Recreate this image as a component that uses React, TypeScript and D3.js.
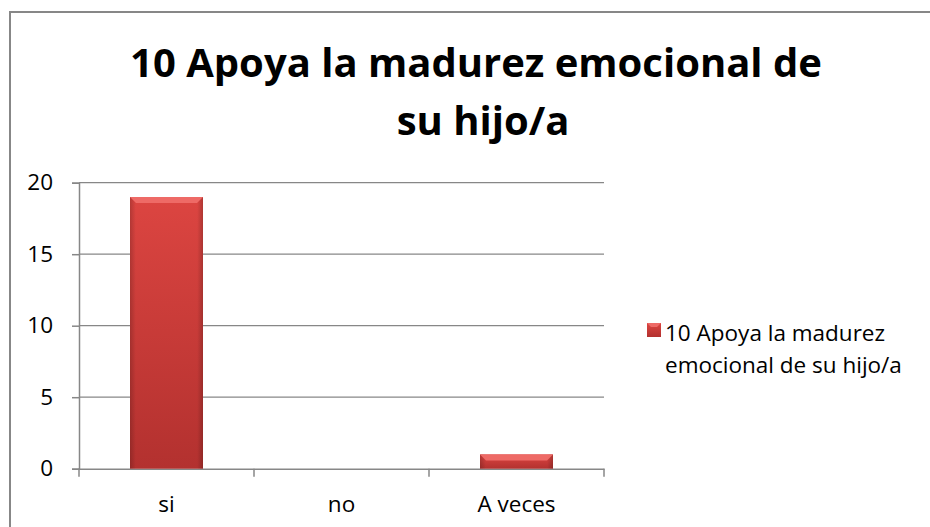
import * as d3 from "d3";
import { useEffect, useRef } from "react";

const categories = ["si", "no", "A veces"];
const values = [19, 0, 1];
const yTicks = [0, 5, 10, 15, 20];
const titleLines = ["10 Apoya la madurez emocional de", "su hijo/a"];
const legendLines = ["10 Apoya la madurez", "emocional de su hijo/a"];

const W = 930, H = 527;
const FONT = "'Open Sans', Lato, sans-serif";

const App = () => {
    const ref = useRef<SVGSVGElement | null>(null);

    useEffect(() => {
        if (!ref.current) return;
        const svg = d3.select(ref.current);
        svg.selectAll("*").remove();

        const plot = { left: 79, top: 182.7, right: 604, bottom: 468.7 };

        // outer chart border (only top and left visible in the crop)
        svg.append("rect")
            .attr("x", 10).attr("y", 12)
            .attr("width", W).attr("height", H)
            .attr("fill", "white")
            .attr("stroke", "#878787")
            .attr("stroke-width", 2);

        const defs = svg.append("defs");
        const grad = defs.append("linearGradient")
            .attr("id", "barGrad").attr("x1", 0).attr("y1", 0).attr("x2", 0).attr("y2", 1);
        grad.append("stop").attr("offset", "0%").attr("stop-color", "#dc4541");
        grad.append("stop").attr("offset", "100%").attr("stop-color", "#b3312f");
        const side = defs.append("linearGradient")
            .attr("id", "sideGrad").attr("x1", 0).attr("y1", 0).attr("x2", 1).attr("y2", 0);
        side.append("stop").attr("offset", "0%").attr("stop-color", "#000").attr("stop-opacity", 0.18);
        side.append("stop").attr("offset", "8%").attr("stop-color", "#000").attr("stop-opacity", 0);
        side.append("stop").attr("offset", "92%").attr("stop-color", "#000").attr("stop-opacity", 0);
        side.append("stop").attr("offset", "100%").attr("stop-color", "#000").attr("stop-opacity", 0.2);

        const x = d3.scaleBand<string>()
            .domain(categories)
            .range([plot.left, plot.right]);
        const y = d3.scaleLinear()
            .domain([0, 20])
            .range([plot.bottom, plot.top]);

        // gridlines
        svg.append("g")
            .selectAll("line")
            .data(yTicks.filter(t => t > 0))
            .join("line")
            .attr("x1", plot.left).attr("x2", plot.right)
            .attr("y1", d => y(d)).attr("y2", d => y(d))
            .attr("stroke", "#878787").attr("stroke-width", 1.2);

        // y axis
        const yAxis = svg.append("g")
            .attr("transform", `translate(${plot.left},0)`)
            .call(d3.axisLeft(y).tickValues(yTicks).tickSize(7).tickPadding(19));
        yAxis.select(".domain").attr("stroke", "#878787").attr("stroke-width", 1.5);
        yAxis.selectAll(".tick line").attr("stroke", "#878787").attr("stroke-width", 1.5);
        yAxis.selectAll("text")
            .attr("font-family", FONT).attr("font-size", 22.5).attr("fill", "#000");

        // x axis
        const xAxis = svg.append("g")
            .attr("transform", `translate(0,${plot.bottom})`)
            .call(d3.axisBottom(x).tickSize(0).tickPadding(27));
        xAxis.select(".domain").attr("stroke", "#878787").attr("stroke-width", 1.5);
        xAxis.selectAll("text")
            .attr("font-family", FONT).attr("font-size", 22.5).attr("fill", "#000");
        xAxis.selectAll(".sep")
            .data([plot.left, ...categories.map(c => x(c)! + x.bandwidth())])
            .join("line")
            .attr("class", "sep")
            .attr("x1", d => d).attr("x2", d => d)
            .attr("y1", 0).attr("y2", 8)
            .attr("stroke", "#878787").attr("stroke-width", 1.5);

        // bars
        const bw = 73;
        const bars = svg.append("g")
            .selectAll("g")
            .data(categories.map((c, i) => ({ c, v: values[i] })).filter(d => d.v > 0))
            .join("g")
            .attr("transform", d => `translate(${x(d.c)! + x.bandwidth() / 2 - bw / 2},${y(d.v)})`);
        bars.append("rect")
            .attr("width", bw)
            .attr("height", d => plot.bottom - y(d.v))
            .attr("fill", "url(#barGrad)");
        bars.append("rect")
            .attr("width", bw)
            .attr("height", d => plot.bottom - y(d.v))
            .attr("fill", "url(#sideGrad)");
        // top bevel
        bars.append("path")
            .attr("d", d => {
                const h = Math.min(6, plot.bottom - y(d.v));
                return `M0,0 L${bw},0 L${bw - h},${h} L${h},${h} Z`;
            })
            .attr("fill", "#ee6a66");

        // title
        svg.append("text")
            .attr("text-anchor", "middle")
            .attr("font-family", FONT)
            .attr("font-weight", "bold")
            .attr("font-size", 40)
            .attr("fill", "#000")
            .selectAll("tspan")
            .data(titleLines)
            .join("tspan")
            .attr("x", (d, i) => i === 0 ? 476 : 483)
            .attr("y", (d, i) => 77 + i * 58)
            .text(d => d);

        // legend
        const lg = svg.append("g");
        lg.append("rect")
            .attr("x", 647).attr("y", 323).attr("width", 14).attr("height", 14)
            .attr("fill", "url(#barGrad)");
        lg.append("path")
            .attr("d", "M647,323 L661,323 L657,327 L651,327 Z")
            .attr("fill", "#ee6a66");
        lg.append("text")
            .attr("font-family", FONT)
            .attr("font-size", 22.5)
            .attr("fill", "#000")
            .selectAll("tspan")
            .data(legendLines)
            .join("tspan")
            .attr("x", 665)
            .attr("y", (d, i) => 341 + i * 32)
            .text(d => d);
    }, []);

    return (
        <svg
            ref={ref}
            width={W}
            height={H}
            style={{ position: "absolute", left: 0, top: 0, background: "white" }}
        />
    );
};

export default App;
